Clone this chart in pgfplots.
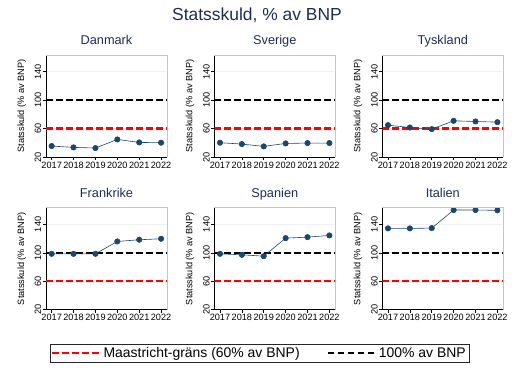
\documentclass[border=0pt]{standalone}
\usepackage{pgfplots}
\pgfplotsset{compat=1.18}
\usepackage{fontspec}
\setmainfont{Liberation Sans}
\definecolor{navy}{RGB}{26,71,111}
\definecolor{titlecol}{RGB}{30,45,80}
\pgfplotsset{
 panel/.style={
  scale only axis, width=121bp, height=102bp,
  xmin=2016.74, xmax=2022.27, ymin=20, ymax=163.5,
  xtick={2017,2018,2019,2020,2021,2022}, ytick={20,60,100,140},
  /pgf/number format/1000 sep={},
  /pgf/number format/assume math mode=true,
  tick label style={font=\fontsize{9.2}{10}\selectfont},
  yticklabel style={rotate=90, anchor=south, inner sep=1.5bp},
  xticklabel style={inner sep=1.5bp},
  axis x line*=bottom, axis y line*=left,
  axis line style={-, black, line width=0.8pt},
  tick align=outside, major tick length=3bp, tick style={black, line width=0.6pt},
  ymajorgrids, grid style={gray!12, line width=0.8pt},
  ylabel={Statsskuld (\% av BNP)},
  ylabel style={font=\fontsize{9.2}{10}\selectfont, at={(axis description cs:-0.2,0.5)}, anchor=center},
  title style={font=\fontsize{12.8}{14}\selectfont, color=titlecol, at={(0.5,1)}, anchor=base, yshift=4.5bp},
  anchor=north west,
  after end axis/.code={\draw[gray!45, line width=0.6pt] (rel axis cs:0,1) -- (rel axis cs:1,1) -- (rel axis cs:1,0);},
 },
 maas/.style={red, line width=2.2bp, dash pattern=on 6.5bp off 3.5bp},
 hundred/.style={black, line width=2.2bp, dash pattern=on 6.5bp off 3.5bp},
 debt/.style={navy, line width=0.6pt, mark=*, mark size=2.7bp, mark options={fill=navy, draw=navy}, forget plot},
}
\begin{document}
\begin{tikzpicture}
\useasboundingbox (0,0) rectangle (520bp,-377bp);
\node[font=\fontsize{17.5}{19}\selectfont, color=titlecol, anchor=base] at (257bp,-20.7bp) {Statsskuld, \% av BNP};

\begin{axis}[panel, at={(46bp,-55bp)}, title={Danmark}]
\addplot[maas] coordinates {(2016.74,60) (2022.27,60)};
\addplot[hundred] coordinates {(2016.74,100) (2022.27,100)};
\addplot[debt] coordinates {(2017,35.4) (2018,33.5) (2019,32.6) (2020,44.7) (2021,40.5) (2022,40.1)};
\end{axis}

\begin{axis}[panel, at={(214.3bp,-55bp)}, title={Sverige}]
\addplot[maas] coordinates {(2016.74,60) (2022.27,60)};
\addplot[hundred] coordinates {(2016.74,100) (2022.27,100)};
\addplot[debt] coordinates {(2017,40.1) (2018,38.2) (2019,34.9) (2020,39.1) (2021,39.6) (2022,39.6)};
\end{axis}

\begin{axis}[panel, at={(382.3bp,-55bp)}, title={Tyskland}]
\addplot[maas] coordinates {(2016.74,60) (2022.27,60)};
\addplot[hundred] coordinates {(2016.74,100) (2022.27,100)};
\addplot[debt] coordinates {(2017,64.8) (2018,61.5) (2019,59.2) (2020,70.9) (2021,70.0) (2022,69.0)};
\end{axis}

\begin{axis}[panel, at={(46bp,-207.7bp)}, title={Frankrike}]
\addplot[maas] coordinates {(2016.74,60) (2022.27,60)};
\addplot[hundred] coordinates {(2016.74,100) (2022.27,100)};
\addplot[debt] coordinates {(2017,98.6) (2018,98.6) (2019,98.6) (2020,116.0) (2021,118.4) (2022,119.8)};
\end{axis}

\begin{axis}[panel, at={(214.3bp,-207.7bp)}, title={Spanien},
  legend columns=2,
  legend style={at={(0.374,-0.335)}, anchor=north, draw=black!85, line width=0.6pt,
    font=\fontsize{14}{16}\selectfont, inner sep=1.2bp,
    /tikz/every even column/.append style={column sep=25bp}},
  legend image code/.code={\draw[#1] (0bp,0bp) -- (48bp,0bp);}]
\addplot[maas] coordinates {(2016.74,60) (2022.27,60)};
\addlegendentry{Maastricht-gräns (60\% av BNP)}
\addplot[hundred] coordinates {(2016.74,100) (2022.27,100)};
\addlegendentry{100\% av BNP}
\addplot[debt] coordinates {(2017,98.6) (2018,97.2) (2019,95.3) (2020,120.7) (2021,122.1) (2022,124.5)};
\end{axis}

\begin{axis}[panel, at={(382.3bp,-207.7bp)}, title={Italien}]
\addplot[maas] coordinates {(2016.74,60) (2022.27,60)};
\addplot[hundred] coordinates {(2016.74,100) (2022.27,100)};
\addplot[debt] coordinates {(2017,134.4) (2018,134.4) (2019,134.8) (2020,160.2) (2021,160.2) (2022,159.8)};
\end{axis}
\end{tikzpicture}
\end{document}
